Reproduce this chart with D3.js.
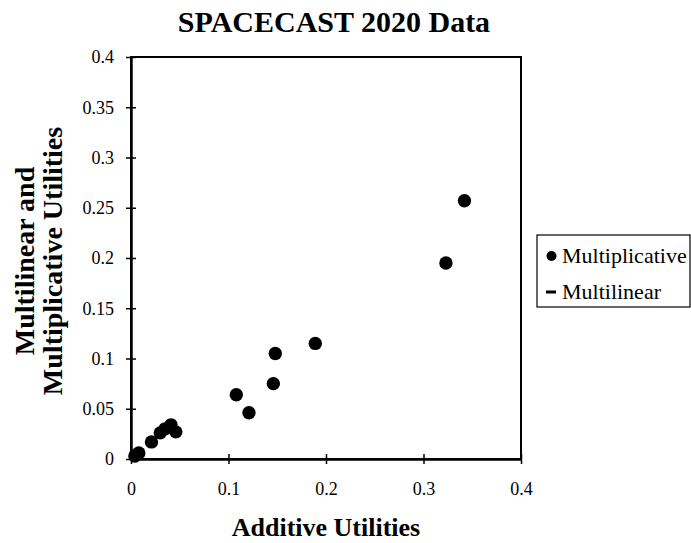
<!DOCTYPE html>
<html>
<head>
<meta charset="utf-8">
<script src="https://cdn.jsdelivr.net/npm/d3@7"></script>
<style>
  html, body { margin: 0; padding: 0; background: #fff; }
  svg { display: block; font-family: "Liberation Serif", "Times New Roman", serif; }
</style>
</head>
<body>
<svg id="chart" width="691" height="543"></svg>
<script>
// Data
const additive       = [0.004, 0.008, 0.021, 0.030, 0.035, 0.041, 0.046, 0.108, 0.121, 0.146, 0.148, 0.189, 0.323, 0.342];
const multiplicative = [0.003, 0.006, 0.017, 0.026, 0.030, 0.034, 0.027, 0.064, 0.046, 0.075, 0.105, 0.115, 0.195, 0.257];
const multilinear    = [0.003, 0.006, 0.017, 0.026, 0.030, 0.034, 0.027, 0.064, 0.046, 0.075, 0.105, 0.115, 0.195, 0.257];
const xTicks = [0, 0.1, 0.2, 0.3, 0.4];
const yTicks = [0, 0.05, 0.1, 0.15, 0.2, 0.25, 0.3, 0.35, 0.4];
const seriesNames = ["Multiplicative", "Multilinear"];
const titleText = "SPACECAST 2020 Data";
const xLabel = "Additive Utilities";
const yLabelLines = ["Multilinear and", "Multiplicative Utilities"];

const svg = d3.select("#chart");
const pL = 131, pR = 521, pT = 57, pB = 459;
const x = d3.scaleLinear().domain([0, 0.4]).range([pL, pR]);
const y = d3.scaleLinear().domain([0, 0.4]).range([pB, pT]);

// Plot frame
svg.append("rect")
  .attr("x", pL).attr("y", pT)
  .attr("width", pR - pL).attr("height", pB - pT)
  .attr("fill", "none").attr("stroke", "#000").attr("stroke-width", 2);

// Y axis
const yAxis = d3.axisLeft(y).tickValues(yTicks)
  .tickFormat(d => String(+d.toFixed(2)))
  .tickSizeInner(5).tickSizeOuter(0).tickPadding(12);
const gy = svg.append("g").attr("transform", `translate(${pL},0)`).call(yAxis);
gy.select(".domain").attr("stroke-width", 2.5);
gy.selectAll(".tick line").attr("x2", -5).attr("x1", 5).attr("stroke-width", 1.5);
gy.selectAll(".tick text").attr("font-size", 18).attr("font-family", "Liberation Serif").attr("fill", "#000");

// X axis
const xAxis = d3.axisBottom(x).tickValues(xTicks)
  .tickFormat(d => String(+d.toFixed(2)))
  .tickSizeInner(5).tickSizeOuter(0).tickPadding(18);
const gx = svg.append("g").attr("transform", `translate(0,${pB})`).call(xAxis);
gx.select(".domain").attr("stroke-width", 2.5);
gx.selectAll(".tick line").attr("y1", -5).attr("y2", 5).attr("stroke-width", 1.5);
gx.selectAll(".tick text").attr("font-size", 18).attr("font-family", "Liberation Serif").attr("fill", "#000");

// Points
const pts = additive.map((a, i) => ({ a, m: multiplicative[i], l: multilinear[i] }));
svg.append("g").selectAll("line").data(pts).join("line")
  .attr("x1", d => x(d.a) - 5).attr("x2", d => x(d.a) + 5)
  .attr("y1", d => y(d.l)).attr("y2", d => y(d.l))
  .attr("stroke", "#000").attr("stroke-width", 3);
svg.append("g").selectAll("circle").data(pts).join("circle")
  .attr("cx", d => x(d.a)).attr("cy", d => y(d.m)).attr("r", 6.7)
  .attr("fill", "#000");

// Title
svg.append("text").attr("x", 334).attr("y", 32)
  .attr("text-anchor", "middle").attr("font-size", 30).attr("font-weight", "bold")
  .text(titleText);

// X label
svg.append("text").attr("x", 326).attr("y", 536)
  .attr("text-anchor", "middle").attr("font-size", 26).attr("font-weight", "bold")
  .text(xLabel);

// Y label
const ylab = svg.append("text")
  .attr("transform", "translate(0,261) rotate(-90)")
  .attr("text-anchor", "middle").attr("font-size", 28).attr("font-weight", "bold");
yLabelLines.forEach((t, i) => {
  ylab.append("tspan").attr("x", 0).attr("y", [34, 62][i]).text(t);
});

// Legend
const lg = svg.append("g");
lg.append("rect").attr("x", 537).attr("y", 235).attr("width", 153).attr("height", 72)
  .attr("fill", "#fff").attr("stroke", "#000").attr("stroke-width", 1.2);
const legendY = [256, 292];
lg.append("circle").attr("cx", 551.5).attr("cy", legendY[0]).attr("r", 5).attr("fill", "#000");
lg.append("line").attr("x1", 546).attr("x2", 556).attr("y1", legendY[1]).attr("y2", legendY[1])
  .attr("stroke", "#000").attr("stroke-width", 3);
seriesNames.forEach((n, i) => {
  lg.append("text").attr("x", 562).attr("y", legendY[i] + 7)
    .attr("font-size", 22).text(n);
});
</script>
</body>
</html>
